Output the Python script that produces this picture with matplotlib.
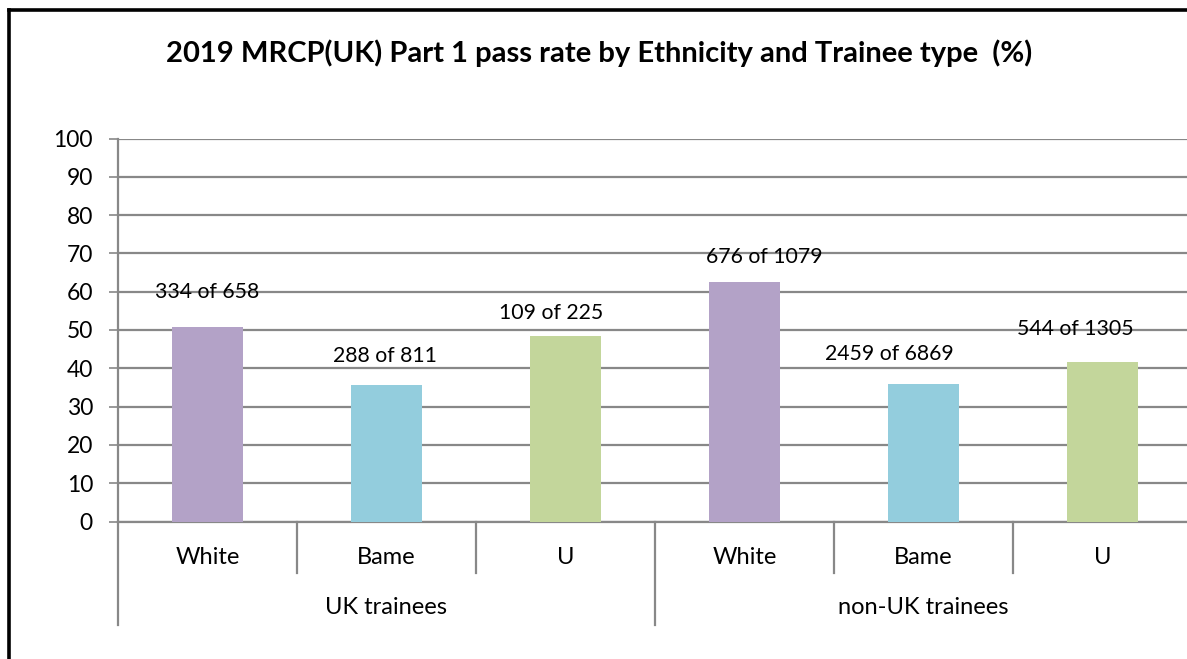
import matplotlib
matplotlib.use("Agg")
import matplotlib.pyplot as plt
from matplotlib.lines import Line2D
import matplotlib.transforms as mtransforms

# ---- data ----
groups = ["UK trainees", "non-UK trainees"]
categories = ["White", "Bame", "U", "White", "Bame", "U"]
passed = [334, 288, 109, 676, 2459, 544]
total = [658, 811, 225, 1079, 6869, 1305]
pass_rate = [50.76, 35.51, 48.44, 62.65, 35.80, 41.69]
yticks = [0, 10, 20, 30, 40, 50, 60, 70, 80, 90, 100]
title = "2019 MRCP(UK) Part 1 pass rate by Ethnicity and Trainee type  (%)"

# ---- style ----
bar_colors = ["#B3A2C7", "#93CDDD", "#C3D69B", "#B3A2C7", "#93CDDD", "#C3D69B"]
label_dx = [0.0, -0.01, -0.08, 0.11, -0.19, -0.15]   # label offsets (category units)
label_dy = [9.2, 7.7, 6.0, 6.5, 8.0, 8.5]             # label offsets (value units)
grid_c = "#888888"
FONT = "Lato"

W, H = 1187, 659
fig = plt.figure(figsize=(W / 100, H / 100), dpi=100)
fig.patch.set_facecolor("white")

x0, x1 = 118, 1192
ytop, ybot = 138.5, 521.5
ax = fig.add_axes([x0 / W, 1 - ybot / H, (x1 - x0) / W, (ybot - ytop) / H])
ax.set_facecolor("white")

n = len(categories)
xs = [i + 0.5 for i in range(n)]
ax.bar(xs, pass_rate, width=0.4, color=bar_colors, zorder=3)
ax.set_xlim(0, n)
ax.set_ylim(0, 100)
ax.set_yticks(yticks)
ax.set_yticklabels([str(t) for t in yticks], fontsize=16.5, family=FONT)
ax.yaxis.grid(True, color=grid_c, linewidth=1.6, zorder=0)
ax.set_axisbelow(True)
ax.tick_params(axis="y", length=6.5, width=1.2, color=grid_c, pad=11.5)
ax.set_xticks([])
for s in ["top", "right"]:
    ax.spines[s].set_visible(False)
ax.spines["left"].set_color(grid_c)
ax.spines["left"].set_linewidth(1.6)
ax.spines["bottom"].set_color(grid_c)
ax.spines["bottom"].set_linewidth(1.6)

# data labels
for i in range(n):
    ax.text(xs[i] + label_dx[i], pass_rate[i] + label_dy[i],
            f"{passed[i]} of {total[i]}", ha="center", va="center",
            fontsize=15.3, family=FONT, zorder=4)

# hierarchical category axis
trans = mtransforms.blended_transform_factory(ax.transData, fig.transFigure)
def fy(px):
    return 1 - px / H
for i in range(n):
    ax.text(xs[i], fy(557), categories[i], transform=trans, ha="center",
            va="center", fontsize=17, family=FONT)
for j, g in enumerate(groups):
    ax.text(j * 3 + 1.5, fy(608), g, transform=trans, ha="center",
            va="center", fontsize=17, family=FONT)
for k in range(n + 1):
    if k % 3 == 0:
        yend = 625
    else:
        yend = 573
    ax.add_line(Line2D([k, k], [fy(521.5), fy(yend)], transform=trans,
                       color=grid_c, linewidth=1.6, clip_on=False))

# title
fig.text(599 / W, 1 - 53 / H, title, ha="center", va="center",
         fontsize=21, fontweight="bold", family=FONT)

# chart border (left and top visible)
fig.add_artist(Line2D([8.7 / W, 8.7 / W], [0, 1 - 9.7 / H], transform=fig.transFigure,
                      color="black", linewidth=2.6, solid_capstyle="projecting"))
fig.add_artist(Line2D([8.7 / W, 1.01], [1 - 9.7 / H, 1 - 9.7 / H], transform=fig.transFigure,
                      color="black", linewidth=2.6, solid_capstyle="projecting"))

fig.savefig("out.png", dpi=100)
